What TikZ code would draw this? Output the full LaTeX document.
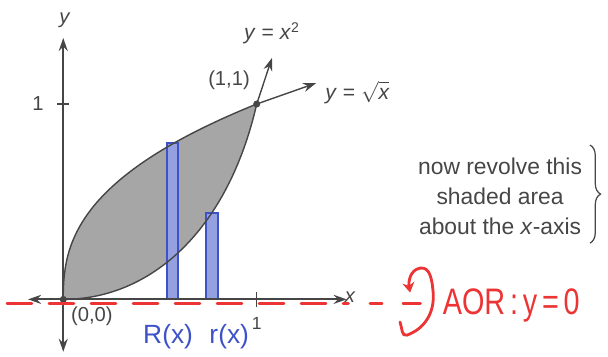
\documentclass[tikz,border=0pt]{standalone}
\usepackage{fontspec}
\setmainfont{Liberation Sans}
\usepackage{graphicx}
\usetikzlibrary{arrows.meta,decorations.pathreplacing}
\definecolor{inkgray}{RGB}{70,70,70}
\definecolor{penred}{RGB}{236,52,52}
\definecolor{penblue}{RGB}{62,82,200}

\begin{document}
\begin{tikzpicture}[x=3.868cm, y=3.906cm,
  axis/.style={line width=1pt, inkgray, {Stealth[length=2.6mm,width=1.8mm]}-{Stealth[length=2.6mm,width=1.8mm]}},
  tick/.style={line width=0.8pt, inkgray},
  curve/.style={line width=0.8pt, inkgray},
  ext/.style={curve, -{Stealth[length=2.6mm,width=1.8mm]}},
  lbl/.style={text=inkgray, font=\fontsize{11.5}{13}\selectfont, inner sep=1pt},
  strip/.style={draw=penblue, fill=penblue!55, line width=1.2pt},
  hand/.style={penred, line width=1.6pt, line cap=round}
]
  \useasboundingbox (-0.327,-0.290) rectangle (2.816,1.5325);

  % points of the figure
  \coordinate (O) at (0,0);
  \coordinate (P) at (1,1);
  \coordinate (xl) at (-0.182,0);
  \coordinate (xr) at (1.465,0);
  \coordinate (yb) at (0,-0.268);
  \coordinate (yt) at (0,1.338);
  \coordinate (sqend) at (1.079,1.236);
  \coordinate (rtend) at (1.307,1.107);

  % shaded area between the curves
  \fill[black!35] (O) -- plot[domain=0.01:1, samples=60] ({\x^2.5},\x)
    .. controls (0.85,0.35) and (0.45,0) .. (O) -- cycle;

  % blue strips
  \draw[strip] (0.535,0) rectangle (0.595,0.799);
  \draw[strip] (0.736,0) rectangle (0.798,0.44);

  % curves
  \draw[curve] (O) -- plot[domain=0.01:1, samples=60] ({\x^2.5},\x);
  \draw[curve] (O) .. controls (0.45,0) and (0.85,0.35) .. (P);
  \draw[ext] (P) -- (sqend);
  \draw[ext] (P) -- (rtend);

  % axes
  \draw[axis] (xl) -- (xr);
  \draw[axis] (yb) -- (yt);
  \draw[tick] (-0.03,1) -- (0.03,1);
  \draw[tick] (1,-0.04) -- (1,0.04);
  \fill[inkgray] (O) circle (2pt);
  \fill[inkgray] (P) circle (2pt);

  \node[lbl] (ylab) at (0.009,1.43) {\textit{y}};
  \node[lbl] (xlab) at (1.484,0.013) {\textit{x}};
  \node[lbl] (oney) at (-0.131,1) {1};
  \node[lbl, font=\fontsize{10}{12}\selectfont] (onex) at (1.0,-0.122) {1};
  \node[lbl] (orig) at (0.148,-0.085) {(0,0)};
  \node[lbl] (pt) at (0.857,1.122) {(1,1)};
  \node[lbl, font=\fontsize{12}{13}\selectfont] (sqlab) at (1.079,1.363) {\textit{y} = \textit{x}\textsuperscript{2}};
  \node[lbl, font=\fontsize{12}{13}\selectfont] (rtlab) at (1.52,1.06) {\textit{y} = $\sqrt{\textit{x}}$};

  % note with brace
  \node[lbl, align=center, font=\fontsize{13}{17}\selectfont] (note) at (2.258,0.529)
    {now revolve this\\shaded area\\about the \textit{x}-axis};
  \coordinate (bt) at (2.723,0.79);
  \coordinate (bb) at (2.723,0.288);
  \draw[decorate, decoration={brace, amplitude=6pt}, inkgray, line width=0.7pt] (bt) -- (bb);

  % handwritten part
  \node[text=penblue, font=\fontsize{15}{15}\selectfont] (Rlab) at (0.542,-0.193) {R(x)};
  \node[text=penblue, font=\fontsize{15}{15}\selectfont] (rlab) at (0.858,-0.193) {r(x)};

  \coordinate (rl) at (-0.291,-0.023);
  \coordinate (rr) at (1.474,-0.023);
  \draw[hand, dash pattern=on 0.5cm off 0.34cm] (rl) -- (rr);
  \foreach \a/\b in {1.586/1.648, 1.756/1.846}
    \draw[hand] (\a,-0.02) -- (\b,-0.02);

  \coordinate (cs) at (1.741,-0.116);
  \coordinate (cbot) at (1.777,-0.183);
  \coordinate (cr) at (1.912,0.037);
  \coordinate (ct) at (1.844,0.160);
  \coordinate (ctip) at (1.793,0.035);
  \draw[hand, -{Stealth[length=2mm,width=2.4mm]}] (cs) to[out=-70,in=200] (cbot)
    to[out=20,in=-85] (cr) to[out=95,in=10] (ct) to[out=190,in=100] (ctip);

  \node[text=penred, font=\fontsize{21}{21}\selectfont] (aor) at (2.316,-0.03)
    {\scalebox{0.78}[1]{AOR\,:\,y\,=\,0}};
\end{tikzpicture}
\end{document}
